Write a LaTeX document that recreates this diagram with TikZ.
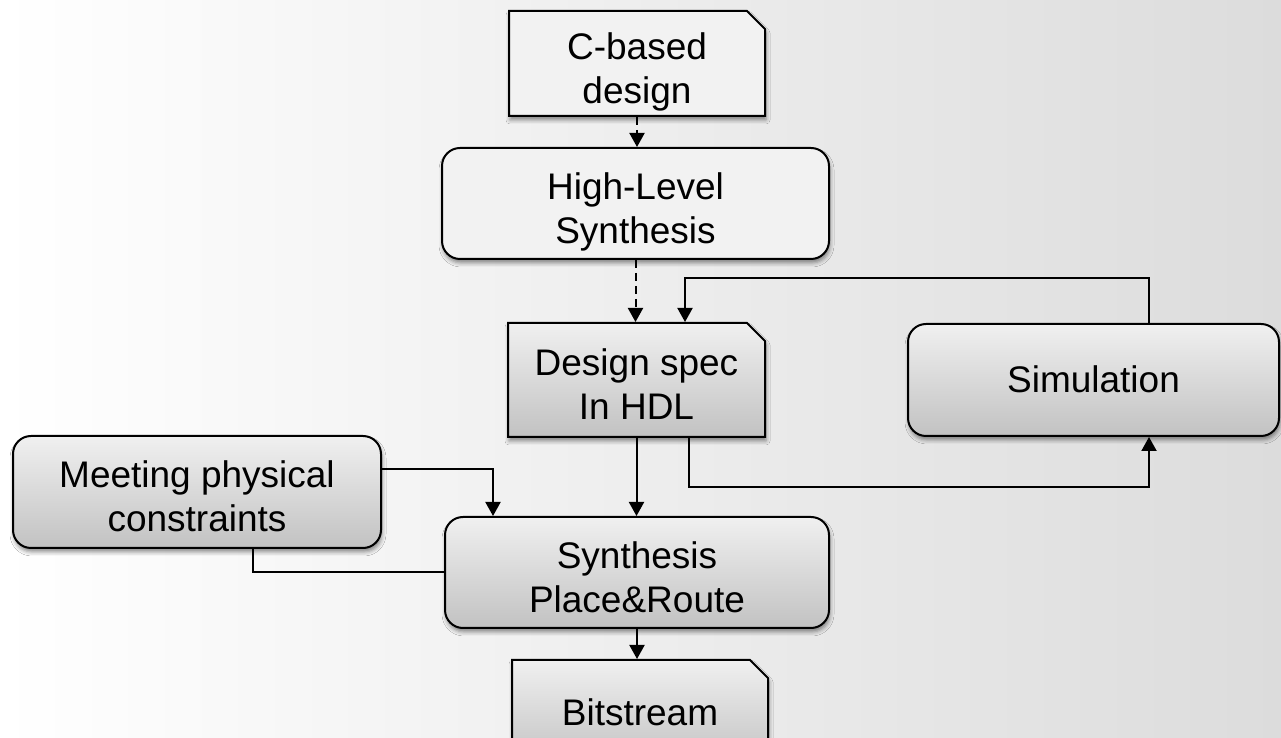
\documentclass[tikz,border=0pt]{standalone}
\usepackage{fontspec}
\setmainfont{Liberation Sans}
\usetikzlibrary{shapes.misc,shadows.blur,arrows.meta}

\definecolor{bgright}{HTML}{DCDCDC}
\definecolor{flat}{HTML}{F2F2F2}
\definecolor{shtop}{HTML}{F0F0F0}
\definecolor{shbot}{HTML}{C2C2C2}

\tikzset{
  box/.style={draw=black, line width=2pt, align=center,
    font=\fontsize{37}{44}\selectfont, inner sep=0pt,
    blur shadow={shadow xshift=1pt, shadow yshift=-4pt,
      shadow blur radius=4pt, shadow opacity=45}},
  docbox/.style={box, chamfered rectangle,
    chamfered rectangle corners=north east,
    chamfered rectangle xsep=9pt, chamfered rectangle ysep=9pt},
  roundbox/.style={box, rectangle, rounded corners=18pt},
  plain/.style={fill=flat},
  graded/.style={top color=shtop, bottom color=shbot},
  % vertical placement of the label block inside a box
  oneline/.style={text height=26pt, text depth=0pt},
  twolines/.style={text height=80pt, text depth=0pt},
  link/.style={line width=2pt, -{Triangle[width=15pt,length=14pt]}},
  wire/.style={line width=2pt},
  dashedlink/.style={link, dash pattern=on 8pt off 5pt},
}

\begin{document}
\begin{tikzpicture}[x=1pt, y=1pt]
  \useasboundingbox (0,0) rectangle (1281,738);
  \clip (0,0) rectangle (1281,738);
  % page background
  \shade[left color=white, right color=bgright] (0,0) rectangle (1281,738);

  % boxes
  \node[docbox, plain, twolines, minimum width=256pt, minimum height=105pt]
    (cdesign) at (637,674.5) {C-based\\design};
  \node[roundbox, plain, twolines, minimum width=387pt, minimum height=111pt]
    (hls) at (635.5,534.5) {High-Level\\Synthesis};
  \node[docbox, graded, twolines, minimum width=257pt, minimum height=114pt]
    (spec) at (636.5,358) {Design spec\\In HDL};
  \node[roundbox, graded, oneline, minimum width=371pt, minimum height=112pt]
    (sim) at (1093.5,358) {Simulation};
  \node[roundbox, graded, twolines, minimum width=368pt, minimum height=112pt]
    (meet) at (197,246) {Meeting physical\\constraints};
  \node[roundbox, graded, twolines, minimum width=384pt, minimum height=111pt]
    (spr) at (637,165.5) {Synthesis\\Place\&Route};
  \node[docbox, graded, oneline, minimum width=256pt, minimum height=105pt]
    (bits) at (640,25.5) {Bitstream};

  % main flow
  \draw[dashedlink] (cdesign.south) -- (cdesign.south |- hls.north);
  \draw[dashedlink] (hls.south) -- (hls.south |- spec.north);
  \draw[link] (spec.south) -- (spec.south |- spr.north);
  \draw[link] (spr.south) -- (spr.south |- bits.north);

  % simulation loop
  \coordinate (fb) at (685,460);
  \draw[link] ([xshift=55.5pt]sim.north) |- (fb) -- (fb |- spec.north);
  \coordinate (lo) at (689,251);
  \draw[link] (lo |- spec.south) -- (lo) -| ([xshift=55.5pt]sim.south);

  % constraints
  \draw[link] ([yshift=23pt]meet.east) -| ([xshift=-144pt]spr.north);
  \draw[wire] ([xshift=56pt]meet.south) |- (spr.west);
\end{tikzpicture}
\end{document}
